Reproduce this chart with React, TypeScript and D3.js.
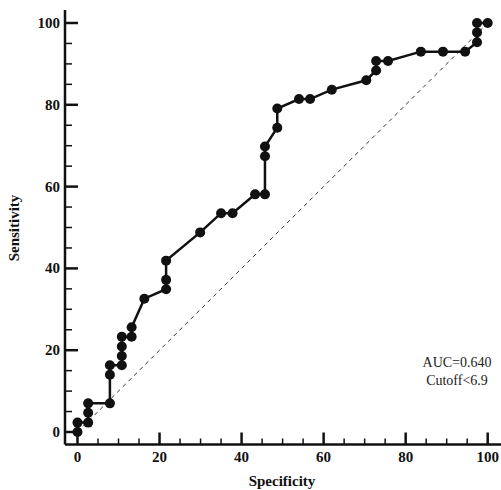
import React from 'react';
import * as d3 from 'd3';

// ROC curve points (specificity %, sensitivity %)
const specificity = [0, 0, 2.6, 2.6, 2.6, 7.9, 7.9, 7.9, 10.8, 10.8, 10.8, 10.8, 13.2, 13.2, 16.3, 21.6, 21.6, 21.6, 29.9, 35.0, 37.8, 43.3, 45.7, 45.7, 45.7, 48.7, 48.7, 54.0, 56.7, 62.0, 70.4, 72.8, 72.8, 75.7, 83.7, 89.1, 94.5, 97.4, 97.4, 97.4, 100];
const sensitivity = [0, 2.3, 2.3, 4.7, 7.0, 7.0, 14.0, 16.3, 16.3, 18.6, 20.9, 23.3, 23.3, 25.6, 32.6, 34.9, 37.2, 41.9, 48.8, 53.5, 53.5, 58.1, 58.1, 67.4, 69.8, 74.4, 79.1, 81.4, 81.4, 83.7, 86.0, 88.4, 90.7, 90.7, 93.0, 93.0, 93.0, 95.3, 97.7, 100, 100];
const majorTicks = [0, 20, 40, 60, 80, 100];
const minorTicks = d3.range(0, 101, 5).filter(v => v % 20 !== 0);
const notes = ['AUC=0.640', 'Cutoff<6.9'];

const width = 501;
const height = 490;
const ink = '#111';
const font = '"Liberation Serif", "Times New Roman", serif';

const App = () => {
  const x = d3.scaleLinear().domain([0, 100]).range([77.5, 487.7]);
  const y = d3.scaleLinear().domain([0, 100]).range([432, 23]);
  const axisX = 65;
  const axisY = 444.5;

  const points = specificity.map((s, i) => [s, sensitivity[i]] as [number, number]);
  const line = d3.line<[number, number]>().x(d => x(d[0])).y(d => y(d[1]));

  return (
    <svg width={width} height={height} style={{ position: 'absolute', left: 0, top: 0, background: '#fff' }}>
      {/* chance line */}
      <line x1={x(0)} y1={y(0)} x2={x(100)} y2={y(100)} stroke="#333" strokeWidth={1} strokeDasharray="4,4" />

      {/* axes */}
      <line x1={axisX} y1={10} x2={axisX} y2={axisY} stroke={ink} strokeWidth={2.5} />
      <line x1={axisX} y1={axisY} x2={width} y2={axisY} stroke={ink} strokeWidth={2.5} />

      {majorTicks.map(t => (
        <g key={'mx' + t}>
          <line x1={x(t)} x2={x(t)} y1={axisY} y2={axisY - 12} stroke={ink} strokeWidth={2.5} />
          <text x={x(t)} y={462} textAnchor="middle" fontFamily={font} fontWeight="bold" fontSize={15} fill={ink}>{t}</text>
          <line x1={axisX} x2={axisX + 13} y1={y(t)} y2={y(t)} stroke={ink} strokeWidth={2.5} />
          <text x={60} y={y(t) + 5} textAnchor="end" fontFamily={font} fontWeight="bold" fontSize={15} fill={ink}>{t}</text>
        </g>
      ))}
      {minorTicks.map(t => (
        <g key={'mn' + t}>
          <line x1={x(t)} x2={x(t)} y1={axisY} y2={axisY - 6} stroke={ink} strokeWidth={1.5} />
          <line x1={axisX} x2={axisX + 7} y1={y(t)} y2={y(t)} stroke={ink} strokeWidth={1.5} />
        </g>
      ))}

      {/* axis titles */}
      <text x={282} y={486} textAnchor="middle" fontFamily={font} fontWeight="bold" fontSize={15} fill={ink}>Specificity</text>
      <text transform="translate(19,228) rotate(-90)" textAnchor="middle" fontFamily={font} fontWeight="bold" fontSize={15} fill={ink}>Sensitivity</text>

      {/* ROC curve */}
      <path d={line(points) ?? ''} fill="none" stroke={ink} strokeWidth={2.5} />
      {points.map((p, i) => (
        <circle key={i} cx={x(p[0])} cy={y(p[1])} r={5} fill={ink} />
      ))}

      {notes.map((n, i) => (
        <text key={n} x={457} y={367 + i * 18} textAnchor="middle" fontFamily={font} fontSize={14} fill="#222">{n}</text>
      ))}
    </svg>
  );
};

export default App;
